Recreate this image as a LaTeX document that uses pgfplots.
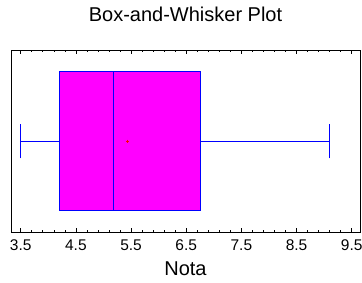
\documentclass[border=0pt]{standalone}
\usepackage{pgfplots}
\pgfplotsset{compat=1.18}
\usepgfplotslibrary{statistics}
\usepackage{fontspec}
\setmainfont{Liberation Sans}
\definecolor{mag}{RGB}{255,0,255}
\definecolor{bl}{RGB}{0,0,255}
\begin{document}
\begin{tikzpicture}[x=1pt,y=1pt]
\useasboundingbox (0,0) rectangle (362,282);
\begin{axis}[
  at={(11pt,50pt)}, anchor=south west,
  scale only axis, width=349pt, height=182pt,
  xmin=3.324, xmax=9.65, ymin=0, ymax=1,
  ytick=\empty,
  xtick={3.5,4.5,5.5,6.5,7.5,8.5,9.5},
  minor x tick num=4,
  tick align=inside, xtick pos=both,
  major tick length=4pt, minor tick length=2pt,
  axis line style={line width=0.8pt},
  every tick/.style={black, line width=0.6pt},
  /pgf/number format/assume math mode=true,
  /pgf/number format/.cd, fixed, fixed zerofill, precision=1, /pgfplots/.cd,
  xticklabel style={font=\fontsize{15.5}{18}\selectfont, anchor=base, yshift=-18.5pt},
  xlabel={Nota},
  xlabel style={font=\fontsize{20}{24}\selectfont, at={(0.5,0)}, anchor=base, yshift=-43pt},
  title={Box-and-Whisker Plot},
  title style={font=\fontsize{20}{24}\selectfont, at={(0.5,1)}, anchor=base, yshift=23pt},
  clip=false,
  boxplot/every box/.style={draw=bl, fill=mag, line width=0.8pt},
  boxplot/every median/.style={draw=bl, line width=0.8pt},
  boxplot/every whisker/.style={draw=bl, line width=0.8pt},
]
\addplot[bl, solid, line width=0.8pt, boxplot prepared={lower whisker=3.5, lower quartile=4.2, median=5.18,
  upper quartile=6.75, upper whisker=9.1, draw position=0.5,
  box extend=0.76, whisker extend=0.19, draw direction=x}] coordinates {};
\addplot[only marks, mark=+, red, mark size=1.5pt, line width=0.5pt] coordinates {(5.44,0.5)};
\end{axis}
\end{tikzpicture}
\end{document}
